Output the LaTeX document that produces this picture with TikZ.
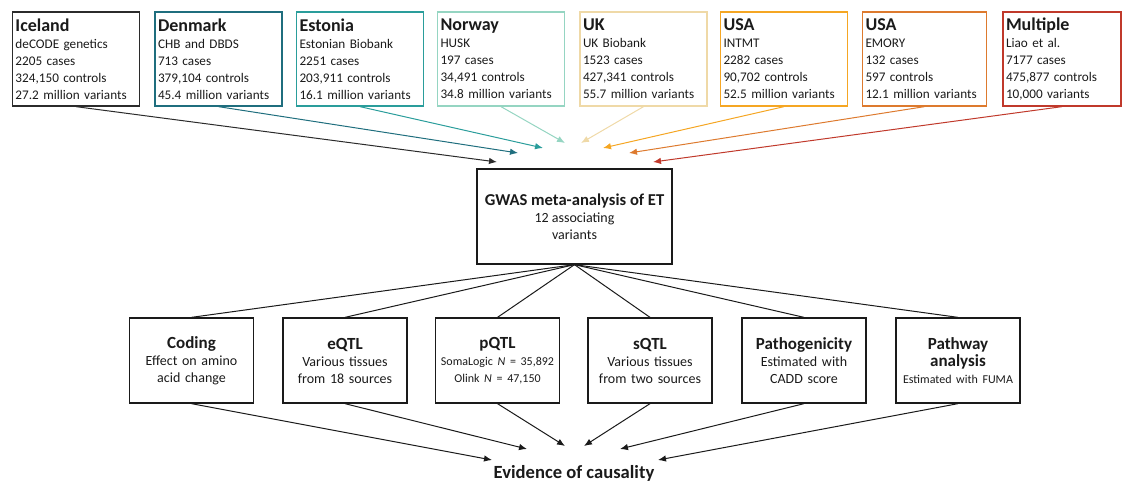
\documentclass[tikz,border=0pt]{standalone}
\usepackage{fontspec}
\setmainfont{Carlito}
\usetikzlibrary{arrows.meta}
\definecolor{cice}{HTML}{2B2B2B}
\definecolor{cden}{HTML}{1F6E7E}
\definecolor{cest}{HTML}{2A9D9B}
\definecolor{cnor}{HTML}{95D5C2}
\definecolor{cuk}{HTML}{EFD9A7}
\definecolor{cint}{HTML}{F5A623}
\definecolor{cemory}{HTML}{DD7A2E}
\definecolor{cmul}{HTML}{C0392B}
\definecolor{txt}{HTML}{1A1A1A}
\tikzset{
  topbox/.style={draw=#1, line width=1.3pt, minimum width=126pt, minimum height=94pt,
    text width=121pt, align=left, inner sep=3pt, text=txt,
    font=\fontsize{13.2}{17}\selectfont},
  midbox/.style={draw=txt, line width=1.3pt, minimum width=195pt, minimum height=95pt,
    align=center, text=txt, font=\fontsize{14}{17}\selectfont},
  botbox/.style={draw=txt, line width=1.3pt, minimum width=124pt, minimum height=85pt,
    text width=120pt, inner sep=2pt, align=center, text=txt, font=\fontsize{14}{17}\selectfont},
  inarrow/.style={draw=#1, line width=1pt, -{Latex[length=8pt,width=6.5pt]}},
  link/.style={draw=txt, line width=1pt},
  outarrow/.style={draw=txt, line width=1pt, -{Latex[length=8pt,width=6.5pt]}},
}
\newcommand{\ttl}[1]{{\fontsize{18}{21}\selectfont\bfseries #1}}
\newcommand{\btl}[1]{{\fontsize{17}{20}\selectfont\bfseries #1}}
\begin{document}
\begin{tikzpicture}[x=1pt,y=-1pt]
\useasboundingbox (0,0) rectangle (1123,482);
% top boxes
\node[topbox=cice] (ice) at (76,59) {\ttl{Iceland}\\deCODE genetics\\2205 cases\\324,150 controls\\27.2 million variants};
\node[topbox=cden] (den) at (218.5,59) {\ttl{Denmark}\\CHB and DBDS\\713 cases\\379,104 controls\\45.4 million variants};
\node[topbox=cest] (est) at (360,59) {\ttl{Estonia}\\Estonian Biobank\\2251 cases\\203,911 controls\\16.1 million variants};
\node[topbox=cnor] (nor) at (501,59) {\ttl{Norway}\\HUSK\\197 cases\\34,491 controls\\34.8 million variants};
\node[topbox=cuk] (uk) at (643.5,59) {\ttl{UK}\\UK Biobank\\1523 cases\\427,341 controls\\55.7 million variants};
\node[topbox=cint] (int) at (784,59) {\ttl{USA}\\INTMT\\2282 cases\\90,702 controls\\52.5 million variants};
\node[topbox=cemory, minimum width=123pt, text width=118pt] (emo) at (924.5,59) {\ttl{USA}\\EMORY\\132 cases\\597 controls\\12.1 million variants};
\node[topbox=cmul, minimum width=118pt, text width=112pt] (mul) at (1062,59) {\ttl{Multiple}\\Liao et al.\\7177 cases\\475,877 controls\\10,000 variants};
% arrow ends
\coordinate (eice) at (497,162);
\coordinate (eden) at (518,153);
\coordinate (eest) at (543,148);
\coordinate (enor) at (565,143);
\coordinate (euk) at (581,143);
\coordinate (eint) at (603,148);
\coordinate (eemo) at (629,153);
\coordinate (emul) at (653,162);
\draw[inarrow=cice] (ice.south) -- (eice);
\draw[inarrow=cden] (den.south) -- (eden);
\draw[inarrow=cest] (est.south) -- (eest);
\draw[inarrow=cnor] (nor.south) -- (enor);
\draw[inarrow=cuk] (uk.south) -- (euk);
\draw[inarrow=cint] (int.south) -- (eint);
\draw[inarrow=cemory] (emo.south) -- (eemo);
\draw[inarrow=cmul] (mul.south) -- (emul);
% middle
\node[midbox] (gwas) at (574.5,216.5) {{\fontsize{16.6}{19}\selectfont\bfseries GWAS meta-analysis of ET}\\12 associating\\variants};
% bottom boxes
\node[botbox] (cod) at (191.5,360.5) {\btl{Coding}\\Effect on amino\\acid change};
\node[botbox] (eqtl) at (345,360.5) {\btl{eQTL}\\Various tissues\\from 18 sources};
\node[botbox] (pqtl) at (497.5,360.5) {\btl{pQTL}\\{\fontsize{12}{15}\selectfont SomaLogic \textit{N} = 35,892}\\{\fontsize{12}{15}\selectfont Olink \textit{N} = 47,150}\\[2pt]};
\node[botbox] (sqtl) at (650,360.5) {\btl{sQTL}\\Various tissues\\from two sources};
\node[botbox] (pat) at (804,360.5) {\btl{Pathogenicity}\\Estimated with\\CADD score};
\node[botbox] (pwy) at (958,360.5) {\btl{Pathway}\\\btl{analysis}\\{\fontsize{12}{15}\selectfont Estimated with FUMA}};
\foreach \b in {cod,eqtl,pqtl,sqtl,pat,pwy} \draw[link] (gwas.south) -- (\b.north);
% evidence
\node[text=txt, font=\fontsize{18.6}{21}\selectfont\bfseries] (ev) at (574,473) {Evidence of causality};
\coordinate (tcod) at (492,460);
\coordinate (teqtl) at (527,449);
\coordinate (tpqtl) at (565,446);
\coordinate (tsqtl) at (584,446);
\coordinate (tpat) at (620,449);
\coordinate (tpwy) at (658,460);
\draw[outarrow] (cod.south) -- (tcod);
\draw[outarrow] (eqtl.south) -- (teqtl);
\draw[outarrow] (pqtl.south) -- (tpqtl);
\draw[outarrow] (sqtl.south) -- (tsqtl);
\draw[outarrow] (pat.south) -- (tpat);
\draw[outarrow] (pwy.south) -- (tpwy);
\end{tikzpicture}
\end{document}
